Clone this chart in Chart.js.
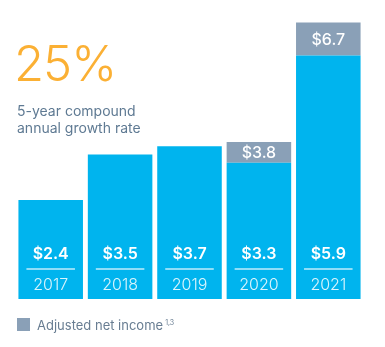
<!DOCTYPE html>
<html>
<head>
<meta charset="utf-8">
<script src="https://cdn.jsdelivr.net/npm/chart.js@4"></script>
<style>
    html, body { margin: 0; padding: 0; background: #fff; }
    #wrap { position: relative; width: 385px; height: 347px; font-family: Inter, "Noto Sans", sans-serif; }
    #chart { position: absolute; left: 0; top: 0; }
    .big { position: absolute; left: 14px; top: 39px; font-size: 49px; font-weight: 300; color: #fbb034; letter-spacing: -1px; line-height: 1; }
    .sub { position: absolute; left: 17px; top: 102px; font-size: 14px; line-height: 17px; color: #5f7a93; }
    .legend { position: absolute; left: 17px; top: 318px; font-size: 13px; color: #687d92; line-height: 14px; }
    .legend i { display: inline-block; width: 13px; height: 13px; background: #8aa0b7; vertical-align: top; margin-right: 7px; }
    .legend sup { font-size: 7px; vertical-align: top; position: relative; top: -2px; margin-left: 2px; }
</style>
</head>
<body>
<div id="wrap">
    <canvas id="chart" width="385" height="347"></canvas>
    <div class="big">25%</div>
    <div class="sub">5-year compound<br>annual growth rate</div>
    <div class="legend"><i></i>Adjusted net income<sup>1,3</sup></div>
</div>
<script>
// 數據
const years = ['2017', '2018', '2019', '2020', '2021'];
const netIncome = [2.4, 3.5, 3.7, 3.3, 5.9];
const adjustedExtra = [null, null, null, 0.5, 0.8];
const adjustedTotal = [null, null, null, 3.8, 6.7];

const blue = '#00b4ee';
const grey = '#8aa0b7';

// 柱內文字和分隔線
const barLabels = {
    id: 'barLabels',
    afterDatasetsDraw(chart) {
        const ctx = chart.ctx;
        const base = chart.getDatasetMeta(0).data;
        const extra = chart.getDatasetMeta(1).data;
        ctx.save();
        ctx.textAlign = 'center';
        ctx.textBaseline = 'middle';
        base.forEach((bar, i) => {
            const x = bar.x;
            const half = bar.width / 2;
            ctx.fillStyle = '#fff';
            ctx.font = '600 16px Inter, "Noto Sans", sans-serif';
            ctx.fillText('$' + netIncome[i].toFixed(1), x, 254);
            ctx.strokeStyle = 'rgba(255,255,255,0.75)';
            ctx.lineWidth = 1.5;
            ctx.beginPath();
            ctx.moveTo(x - half + 8, 269);
            ctx.lineTo(x + half - 8, 269);
            ctx.stroke();
            ctx.fillStyle = 'rgba(255,255,255,0.85)';
            ctx.font = '300 16px Inter, "Noto Sans", sans-serif';
            ctx.fillText(years[i], x, 285);
            if (adjustedTotal[i] !== null) {
                const e = extra[i];
                ctx.fillStyle = '#fff';
                ctx.font = '500 16px Inter, "Noto Sans", sans-serif';
                ctx.fillText('$' + adjustedTotal[i].toFixed(1), e.x, (e.y + e.base) / 2 + 1);
            }
        });
        ctx.restore();
    }
};

new Chart(document.getElementById('chart'), {
    type: 'bar',
    data: {
        labels: years,
        datasets: [{
            label: 'Net income',
            data: netIncome,
            backgroundColor: blue,
            borderWidth: 0
        }, {
            label: 'Adjusted net income',
            data: adjustedExtra,
            backgroundColor: grey,
            borderWidth: 0
        }]
    },
    options: {
        responsive: false,
        animation: false,
        layout: { padding: { left: 16, right: 22, top: 10, bottom: 48 } },
        datasets: { bar: { barPercentage: 0.93, categoryPercentage: 1 } },
        scales: {
            x: { stacked: true, display: false },
            y: { stacked: true, display: false, min: 0, max: 7 }
        },
        plugins: {
            legend: { display: false },
            tooltip: { enabled: false }
        }
    },
    plugins: [barLabels]
});
</script>
</body>
</html>
